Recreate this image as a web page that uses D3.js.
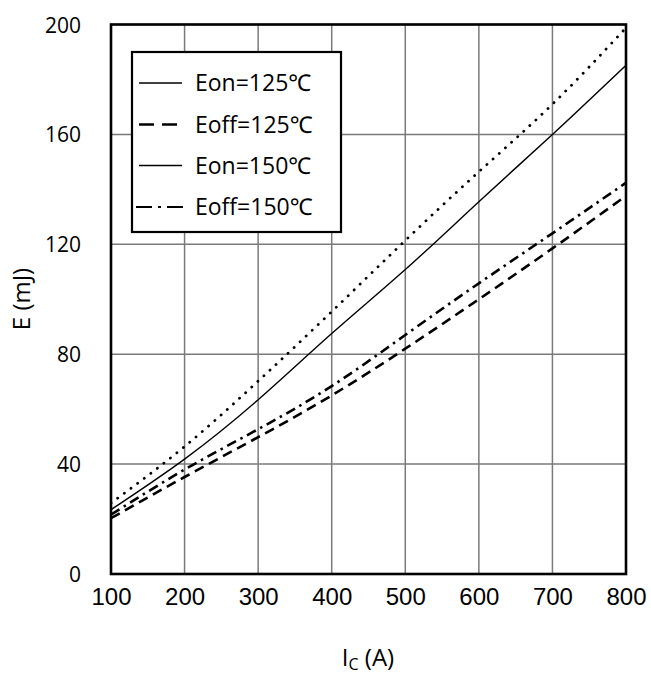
<!DOCTYPE html>
<html><head><meta charset="utf-8">
<script src="https://cdn.jsdelivr.net/npm/d3@7"></script>
<style>body{margin:0;background:#fff}svg{display:block}</style>
</head><body>
<svg id="chart" width="651" height="678"></svg>
<script>
const currents = [100, 200, 300, 400, 500, 600, 700, 800];
const eon125  = [23.4, 41.8, 63.4, 87.5, 110.8, 135.5, 160.0, 185.2];
const eoff125 = [20.3, 35.3, 49.8, 65.0, 82.0, 100.0, 118.5, 137.6];
const eon150  = [25.8, 46.4, 70.2, 95.5, 121.4, 146.4, 171.0, 198.8];
const eoff150 = [21.6, 38.0, 52.7, 68.4, 87.0, 105.8, 124.0, 142.4];
const xTicks = [100, 200, 300, 400, 500, 600, 700, 800];
const yTicks = [0, 40, 80, 120, 160, 200];
const legendLabels = ["Eon=125℃", "Eoff=125℃", "Eon=150℃", "Eoff=150℃"];

const FONT = "'Open Sans', 'Noto Sans', sans-serif";
const svg = d3.select("#chart");
const L = 111, R = 626, T = 24.5, B = 574;
const x = d3.scaleLinear().domain([100, 800]).range([L, R]);
const y = d3.scaleLinear().domain([0, 200]).range([B, T]);

// grid
const g = svg.append("g");
g.selectAll(".vg").data(xTicks).join("line")
  .attr("x1", d => x(d)).attr("x2", d => x(d)).attr("y1", T).attr("y2", B)
  .attr("stroke", "#7a7a7a").attr("stroke-width", 1.5);
g.selectAll(".hg").data(yTicks).join("line")
  .attr("y1", d => y(d)).attr("y2", d => y(d)).attr("x1", L).attr("x2", R)
  .attr("stroke", "#7a7a7a").attr("stroke-width", 1.5);

// axis tick labels
const xAxis = svg.append("g").attr("transform", `translate(0,${B})`)
  .call(d3.axisBottom(x).tickValues(xTicks).tickSize(0).tickPadding(14));
xAxis.select(".domain").remove();
xAxis.selectAll("text").attr("font-family", "'Liberation Sans', Arial, sans-serif")
  .attr("font-size", 24).attr("font-weight", 400).attr("fill", "#000");

const yAxis = svg.append("g").attr("transform", `translate(${L},0)`)
  .call(d3.axisLeft(y).tickValues(yTicks).tickSize(0).tickPadding(30));
yAxis.select(".domain").remove();
yAxis.selectAll("text").attr("font-family", FONT)
  .attr("font-size", 21).attr("font-weight", 400).attr("fill", "#000").attr("dy", "0.36em");

// series
const series = [
  {vals: eon125, w: 1.4, dash: null, cap: "butt"},
  {vals: eoff125, w: 2.6, dash: "10,6", cap: "butt"},
  {vals: eon150, w: 2.8, dash: "0.1,8.2", cap: "round"},
  {vals: eoff150, w: 2.6, dash: "10,5,2.5,5", cap: "butt"}
];
const line = d3.line().x((d, i) => x(currents[i])).y(d => y(d)).curve(d3.curveNatural);
svg.append("defs").append("clipPath").attr("id", "clip")
  .append("rect").attr("x", L).attr("y", T).attr("width", R - L).attr("height", B - T);
svg.append("g").attr("clip-path", "url(#clip)").selectAll("path").data(series).join("path")
  .attr("d", d => line(d.vals))
  .attr("fill", "none").attr("stroke", "#000")
  .attr("stroke-width", d => d.w)
  .attr("stroke-dasharray", d => d.dash)
  .attr("stroke-linecap", d => d.cap);

// border
svg.append("rect").attr("x", L).attr("y", T).attr("width", R - L).attr("height", B - T)
  .attr("fill", "none").attr("stroke", "#000").attr("stroke-width", 2.6);

// legend
const lg = svg.append("g");
lg.append("rect").attr("x", 132).attr("y", 52).attr("width", 209).attr("height", 180)
  .attr("fill", "#fff").attr("stroke", "#000").attr("stroke-width", 2.2);
const legendStyles = [
  {x1: 139, x2: 182, w: 1.6, dash: null},
  {x1: 139, x2: 182, w: 2.6, dash: "15,8"},
  {x1: 139, x2: 182, w: 1.6, dash: null},
  {x1: 136, x2: 186, w: 2.2, dash: "16,6,3,6"}
];
const rowY = [83, 124.5, 165.5, 207];
legendLabels.forEach((lab, i) => {
  const s = legendStyles[i];
  lg.append("line").attr("x1", s.x1).attr("x2", s.x2).attr("y1", rowY[i]).attr("y2", rowY[i])
    .attr("stroke", "#000").attr("stroke-width", s.w).attr("stroke-dasharray", s.dash);
  lg.append("text").attr("x", 195).attr("y", rowY[i]).attr("dy", "0.36em")
    .attr("font-family", FONT).attr("font-size", 23).attr("font-weight", 400)
    .attr("fill", "#000").text(lab);
});

// axis titles
const xt = svg.append("text").attr("x", 368).attr("y", 666)
  .attr("text-anchor", "middle").attr("font-family", FONT).attr("font-weight", 400)
  .attr("font-size", 24).attr("fill", "#000");
xt.append("tspan").text("I");
xt.append("tspan").attr("font-size", 16).attr("dy", 4).text("C");
xt.append("tspan").attr("dy", -4).text(" (A)");

svg.append("text").attr("transform", "translate(30,299) rotate(-90)")
  .attr("text-anchor", "middle").attr("font-family", FONT).attr("font-weight", 400)
  .attr("font-size", 24).attr("fill", "#000").text("E (mJ)");
</script>
</body></html>
